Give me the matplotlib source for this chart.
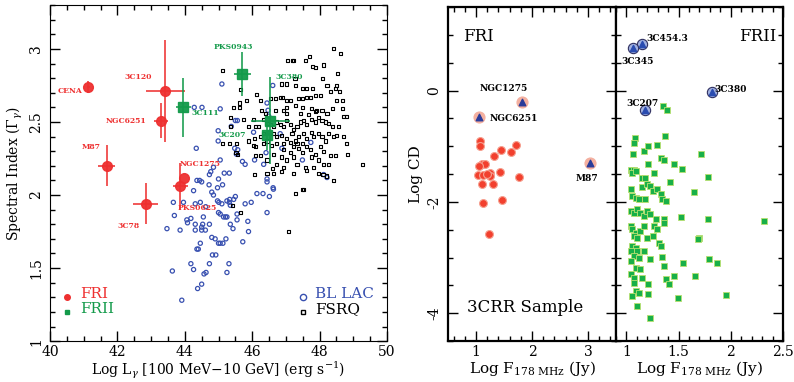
import numpy as np
import matplotlib
matplotlib.use("Agg")
import matplotlib.pyplot as plt
from matplotlib.ticker import MultipleLocator, FuncFormatter

plt.rcParams['font.family'] = ['DejaVu Serif']
plt.rcParams['mathtext.fontset'] = 'dejavuserif'

# ---- Left panel: gamma-ray luminosity vs spectral index
bll_L = [44.28, 44.51, 45.05, 45.10, 44.99, 44.99, 44.34, 45.50, 45.56, 45.38,
         45.48, 45.57, 45.53, 45.71, 45.79, 46.04, 46.07, 46.34, 46.41, 46.44,
         46.47, 46.49, 46.61, 46.53, 46.44, 46.44, 46.63, 46.51, 46.44, 46.14,
         46.32, 45.97, 45.79, 45.87, 45.89, 45.72, 45.50, 45.33, 45.32, 45.55,
         45.55, 45.35, 45.43, 45.21, 45.17, 45.32, 45.05, 44.73, 44.77, 44.85,
         45.00, 45.12, 44.97, 44.72, 44.85, 44.80, 44.50, 44.36, 44.44, 44.26,
         43.66, 43.96, 44.31, 44.46, 44.62, 44.97, 45.01, 45.10, 45.25, 45.35,
         45.05, 45.15, 45.25, 45.45, 43.69, 44.08, 44.06, 44.18, 44.31, 44.55,
         44.53, 44.61, 44.50, 44.73, 45.00, 43.47, 43.86, 44.31, 44.50, 44.80,
         44.90, 45.00, 45.05, 45.13, 45.22, 44.46, 44.36, 44.40, 44.82, 44.92,
         44.73, 44.18, 44.26, 44.57, 44.63, 45.31, 45.25, 43.63, 44.50, 44.38,
         43.91, 47.74, 47.49, 48.12, 48.22, 46.83, 46.88, 46.62]
bll_G = [2.60, 2.60, 2.59, 2.76, 2.44, 2.37, 2.32, 2.51, 2.51, 2.47,
         2.32, 2.31, 2.28, 2.23, 2.21, 2.43, 2.24, 2.21, 2.29, 2.63,
         2.58, 2.54, 2.75, 2.43, 2.11, 2.09, 2.04, 1.99, 1.88, 2.01,
         2.01, 1.95, 1.94, 1.82, 1.75, 1.68, 1.99, 1.97, 1.95, 1.87,
         1.83, 1.80, 1.77, 1.85, 2.15, 2.15, 2.24, 2.14, 2.16, 2.19,
         2.11, 2.07, 2.05, 2.07, 2.00, 2.02, 2.09, 2.10, 2.10, 2.03,
         1.95, 1.95, 1.94, 1.95, 1.92, 1.96, 1.95, 1.94, 1.96, 1.93,
         1.87, 1.85, 1.85, 1.97, 1.86, 1.81, 1.83, 1.84, 1.80, 1.85,
         1.80, 1.76, 1.78, 1.80, 1.88, 1.77, 1.76, 1.76, 1.76, 1.71,
         1.70, 1.67, 1.67, 1.67, 1.70, 1.67, 1.63, 1.63, 1.59, 1.59,
         1.53, 1.53, 1.49, 1.46, 1.47, 1.53, 1.47, 1.48, 1.39, 1.36,
         1.28, 2.36, 2.24, 2.14, 2.12, 2.42, 2.32, 2.05]

fsrq_L = [48.41, 48.61, 47.70, 47.05, 47.20, 47.23, 47.57, 47.78, 47.89, 48.11,
          45.13, 48.53, 48.09, 47.27, 46.86, 47.03, 47.28, 47.50, 47.60, 47.78,
          48.22, 48.50, 48.47, 45.64, 45.84, 46.14, 46.24, 46.55, 46.68, 46.83,
          46.91, 47.01, 47.13, 47.38, 47.48, 47.62, 47.72, 47.87, 48.02, 48.32,
          48.59, 48.68, 48.51, 45.62, 45.62, 45.45, 45.35, 48.37, 48.67, 48.71,
          48.81, 48.07, 48.22, 47.77, 47.87, 47.28, 47.48, 46.93, 47.03, 46.68,
          46.27, 46.04, 45.74, 45.89, 46.09, 46.19, 45.35, 45.13, 45.33, 45.54,
          45.52, 45.57, 46.09, 46.34, 46.09, 45.89, 46.07, 46.24, 46.34, 46.44,
          46.58, 46.73, 46.63, 46.88, 46.93, 47.13, 47.23, 47.38, 47.48, 47.60,
          47.72, 47.87, 48.02, 48.12, 48.32, 48.47, 48.84, 49.26, 48.12, 48.27,
          48.10, 48.20, 48.42, 47.57, 47.60, 47.23, 46.88, 46.93, 46.61, 46.63,
          46.06, 46.44, 47.48, 47.53, 47.28, 45.64, 47.08, 45.41,
          46.34, 46.44, 46.53, 46.63, 46.73, 46.83, 46.93, 47.03, 47.13, 47.23,
          47.33, 47.43, 47.52, 47.62, 47.77, 47.87, 47.97, 48.07, 48.17, 48.27,
          48.37, 46.63, 46.73, 46.88, 47.03, 47.18, 47.28, 47.38, 47.52, 47.62,
          47.77, 47.82, 47.97, 48.07, 48.17, 48.27, 48.42, 46.93, 47.13, 47.33,
          47.48, 47.77, 47.97, 47.03, 47.23, 46.73, 46.44, 46.24, 46.04, 47.33,
          47.82, 47.97, 48.51, 48.81, 48.56, 48.71, 46.39, 47.03, 47.43, 47.67,
          47.92]
fsrq_G = [3.00, 2.97, 2.95, 2.92, 2.92, 2.92, 2.92, 2.88, 2.87, 2.89,
          2.85, 2.83, 2.80, 2.80, 2.76, 2.76, 2.75, 2.73, 2.73, 2.73,
          2.75, 2.75, 2.73, 2.72, 2.65, 2.69, 2.65, 2.66, 2.66, 2.67,
          2.67, 2.65, 2.65, 2.66, 2.66, 2.67, 2.67, 2.68, 2.68, 2.71,
          2.71, 2.65, 2.65, 2.63, 2.60, 2.60, 2.53, 2.59, 2.59, 2.54,
          2.54, 2.58, 2.56, 2.59, 2.57, 2.61, 2.60, 2.58, 2.60, 2.58,
          2.58, 2.52, 2.52, 2.47, 2.47, 2.47, 2.47, 2.35, 2.35, 2.35,
          2.29, 2.28, 2.33, 2.35, 2.27, 2.37, 2.39, 2.40, 2.42, 2.37,
          2.34, 2.35, 2.28, 2.26, 2.31, 2.29, 2.33, 2.32, 2.35, 2.33,
          2.31, 2.28, 2.33, 2.30, 2.27, 2.27, 2.28, 2.21, 2.21, 2.21,
          2.14, 2.13, 2.10, 2.19, 2.17, 2.15, 2.16, 2.19, 2.18, 2.15,
          2.14, 2.15, 2.04, 2.04, 2.01, 1.88, 1.75, 1.93,
          2.52, 2.49, 2.48, 2.47, 2.50, 2.48, 2.47, 2.51, 2.48, 2.45,
          2.47, 2.50, 2.51, 2.48, 2.52, 2.50, 2.53, 2.51, 2.50, 2.49,
          2.47, 2.42, 2.40, 2.41, 2.39, 2.42, 2.37, 2.40, 2.42, 2.39,
          2.43, 2.40, 2.42, 2.40, 2.37, 2.42, 2.40, 2.35, 2.36, 2.35,
          2.29, 2.26, 2.24, 2.24, 2.26, 2.21, 2.24, 2.27, 2.34, 2.21,
          2.19, 2.15, 2.41, 2.35, 2.47, 2.40, 2.56, 2.56, 2.56, 2.55,
          2.58]

fri_names = ["CENA", "3C120", "NGC6251", "M87", "NGC1275", "PKS0625", "3C78"]
fri_L = [41.14, 43.42, 43.30, 41.68, 43.99, 43.86, 42.84]
fri_G = [2.74, 2.71, 2.51, 2.20, 2.12, 2.06, 1.94]
fri_xerr = [0.05, 0.58, 0.21, 0.25, 0.0, 0.22, 0.37]
fri_yerr = [0.04, 0.35, 0.12, 0.14, 0.0, 0.16, 0.14]
fri_lab_L = [40.59, 42.62, 42.26, 41.21, 44.46, 44.36, 42.33]
fri_lab_G = [2.71, 2.81, 2.51, 2.33, 2.21, 1.91, 1.79]

frii_names = ["PKS0943", "3C111", "3C380", "3C207"]
frii_L = [45.71, 43.95, 46.53, 46.44]
frii_G = [2.83, 2.60, 2.51, 2.41]
frii_xerr = [0.25, 0.22, 0.58, 0.15]
frii_yerr = [0.15, 0.20, 0.30, 0.10]
frii_lab_L = [45.45, 44.62, 47.11, 45.42]
frii_lab_G = [3.01, 2.56, 2.81, 2.41]

# ---- Right panels: core dominance vs 178 MHz flux (3CRR)
cd_fri_F = [1.07, 1.07, 1.10, 1.16, 1.04, 1.13, 1.25, 1.25, 1.10, 1.31,
            1.43, 1.33, 1.44, 1.62, 1.71, 1.77, 1.12, 1.46, 1.24, 1.20, 1.06]
cd_fri_CD = [-0.91, -1.00, -1.31, -1.31, -1.51, -1.51, -1.48, -1.54, -1.68, -1.68,
             -1.46, -1.18, -1.06, -1.11, -0.97, -1.56, -2.01, -1.97, -2.57, -1.50, -1.35]
fri_tri_names = ["NGC1275", "NGC6251", "M87"]
fri_tri_F = [1.83, 1.06, 3.04]
fri_tri_CD = [-0.20, -0.48, -1.30]
fri_tri_lab_F = [1.49, 1.67, 2.98]
fri_tri_lab_CD = [0.04, -0.50, -1.57]

cd_frii_F = [1.08, 1.07, 1.06, 1.17, 1.21, 1.29, 1.37, 1.33, 1.36, 1.21,
             1.46, 1.53, 1.71, 1.04, 1.07, 1.05, 1.09, 1.26, 1.15, 1.18,
             1.78, 1.42, 1.04, 1.15, 1.20, 1.23, 1.25, 1.29, 1.18, 1.05,
             1.09, 1.12, 1.33, 1.34, 1.38, 1.65, 1.04, 1.07, 1.10, 1.13,
             1.17, 1.20, 1.23, 1.28, 1.36, 1.36, 1.52, 1.78, 2.32, 1.04,
             1.05, 1.09, 1.13, 1.17, 1.26, 1.29, 1.07, 1.10, 1.20, 1.25,
             1.31, 1.33, 1.70, 1.69, 1.05, 1.09, 1.04, 1.10, 1.17, 1.07,
             1.04, 1.12, 1.23, 1.34, 1.54, 1.79, 1.87, 1.36, 1.09, 1.13,
             1.04, 1.07, 1.15, 1.46, 1.66, 1.38, 1.41, 1.07, 1.09, 1.05,
             1.12, 1.21, 1.21, 1.49, 1.95, 1.10, 1.23, 1.35, 1.39]
cd_frii_CD = [-0.85, -0.94, -1.14, -1.09, -1.00, -0.97, -0.81, -1.21, -1.24, -1.31,
              -1.31, -1.40, -1.13, -1.42, -1.42, -1.48, -1.45, -1.48, -1.57, -1.57,
              -1.55, -1.64, -1.76, -1.74, -1.68, -1.71, -1.80, -1.77, -1.95, -1.89,
              -1.92, -1.95, -1.86, -1.95, -1.98, -1.82, -2.16, -2.19, -2.13, -2.19,
              -2.25, -2.16, -2.22, -2.31, -2.31, -2.37, -2.27, -2.30, -2.35, -2.43,
              -2.49, -2.55, -2.52, -2.43, -2.43, -2.49, -2.61, -2.64, -2.64, -2.61,
              -2.73, -2.79, -2.64, -2.66, -2.79, -2.82, -2.88, -2.88, -2.88, -2.97,
              -3.06, -3.00, -3.02, -2.98, -3.09, -3.03, -3.09, -3.15, -3.18, -3.21,
              -3.30, -3.36, -3.36, -3.33, -3.33, -3.38, -3.48, -3.45, -3.60, -3.69,
              -3.63, -3.48, -3.66, -3.72, -3.67, -3.87, -4.09, -0.27, -0.34]
frii_tri_names = ["3C454.3", "3C345", "3C380", "3C207"]
frii_tri_F = [1.15, 1.06, 1.82, 1.18]
frii_tri_CD = [0.83, 0.76, -0.02, -0.35]
frii_tri_lab_F = [1.39, 1.11, 2.00, 1.15]
frii_tri_lab_CD = [0.94, 0.53, 0.02, -0.24]

RED = "#ee3030"
GREEN = "#139a4a"
BLUE = "#3850b0"


def sm_ticks(ax, xmaj, xmin, ymaj, ymin):
    ax.xaxis.set_major_locator(MultipleLocator(xmaj))
    ax.xaxis.set_minor_locator(MultipleLocator(xmin))
    ax.yaxis.set_major_locator(MultipleLocator(ymaj))
    ax.yaxis.set_minor_locator(MultipleLocator(ymin))
    ax.yaxis.set_major_formatter(FuncFormatter(lambda v, p: "%g" % round(v, 2)))
    ax.tick_params(which="both", direction="in", top=True, right=True, width=1.0)
    ax.tick_params(which="major", length=7, labelsize=10)
    ax.tick_params(which="minor", length=3.5)
    ax.tick_params(axis="x", pad=3)
    ax.tick_params(axis="y", pad=5)
    for lab in ax.get_yticklabels():
        lab.set_rotation(90)
        lab.set_va("center")


fig = plt.figure(figsize=(7.94, 3.82), dpi=100)

# ---- Left
ax = fig.add_axes([0.063, 0.107, 0.4244, 0.8796])
ax.scatter(bll_L, bll_G, s=9, facecolors="none", edgecolors=BLUE, linewidths=0.9, zorder=2)
ax.scatter(fsrq_L, fsrq_G, s=5, marker="s", facecolors="none", edgecolors="black", linewidths=0.8, zorder=2)
ax.errorbar(fri_L, fri_G, xerr=fri_xerr, yerr=fri_yerr, fmt="o", color=RED, ms=7,
            elinewidth=1.2, capsize=0, alpha=0.95, zorder=3)
ax.errorbar(frii_L, frii_G, xerr=frii_xerr, yerr=frii_yerr, fmt="s", color=GREEN, ms=7,
            elinewidth=1.2, capsize=0, alpha=0.95, zorder=3)
for name, x, y in zip(fri_names, fri_lab_L, fri_lab_G):
    ax.text(x, y, name, color=RED, fontsize=5.5, fontweight="bold", ha="center", va="center")
for name, x, y in zip(frii_names, frii_lab_L, frii_lab_G):
    ax.text(x, y, name, color=GREEN, fontsize=5.5, fontweight="bold", ha="center", va="center")

# legend drawn by hand, as in the original
ax.plot([40.5], [1.30], "o", color=RED, ms=4)
ax.plot([40.5], [1.20], "s", color=GREEN, ms=3.5)
ax.text(40.9, 1.32, "FRI", color=RED, fontsize=11, va="center")
ax.text(40.9, 1.22, "FRII", color=GREEN, fontsize=11, va="center")
ax.plot([47.5], [1.30], "o", mfc="none", mec=BLUE, ms=4.5)
ax.plot([47.5], [1.20], "s", mfc="none", mec="black", ms=3.5)
ax.text(47.87, 1.32, "BL LAC", color=BLUE, fontsize=11, va="center")
ax.text(47.87, 1.22, "FSRQ", color="black", fontsize=11, va="center")

ax.set_xlim(40, 50)
ax.set_ylim(1, 3.3)
sm_ticks(ax, 2, 0.5, 0.5, 0.1)
ax.set_xlabel(r"Log L$_\gamma$ [100 MeV$-$10 GeV] (erg s$^{-1}$)", fontsize=10, labelpad=0)
ax.set_ylabel(r"Spectral Index ($\Gamma_\gamma$)", fontsize=10, labelpad=3)

# ---- Right: FRI
ax1 = fig.add_axes([0.5642, 0.107, 0.2116, 0.8743])
ax1.scatter(cd_fri_F, cd_fri_CD, s=32, color="#f2402e", edgecolors="#f6a090", linewidths=0.8, zorder=2)
ax1.scatter(fri_tri_F, fri_tri_CD, s=60, color="#f4b0a0", zorder=2)
ax1.scatter(fri_tri_F, fri_tri_CD, s=22, marker="^", color="#2a3c9a", zorder=3)
for name, x, y in zip(fri_tri_names, fri_tri_lab_F, fri_tri_lab_CD):
    ax1.text(x, y, name, fontsize=6.5, fontweight="bold", ha="center", va="center")
ax1.text(1.04, 0.97, "FRI", fontsize=12, ha="center", va="center")
ax1.text(1.87, -3.90, "3CRR Sample", fontsize=12, ha="center", va="center")
ax1.set_xlim(0.5, 3.5)
ax1.set_ylim(-4.5, 1.5)
sm_ticks(ax1, 1, 0.2, 2, 0.5)
ax1.set_xlabel(r"Log F$_{178\ \mathrm{MHz}}$ (Jy)", fontsize=11, labelpad=0)
ax1.set_ylabel("Log CD", fontsize=11, labelpad=3)

# ---- Right: FRII
ax2 = fig.add_axes([0.7758, 0.107, 0.2103, 0.8743], sharey=ax1)
ax2.scatter(cd_frii_F, cd_frii_CD, s=20, marker="s", color="#18b048", edgecolors="#b8e070",
            linewidths=0.6, zorder=2)
ax2.scatter(frii_tri_F, frii_tri_CD, s=55, color="#a0b0e0", edgecolors="#303060",
            linewidths=0.8, zorder=2)
ax2.scatter(frii_tri_F, frii_tri_CD, s=20, marker="^", color="#2a4cb0", zorder=3)
for name, x, y in zip(frii_tri_names, frii_tri_lab_F, frii_tri_lab_CD):
    ax2.text(x, y, name, fontsize=6.5, fontweight="bold", ha="center", va="center")
ax2.text(2.26, 0.97, "FRII", fontsize=12, ha="center", va="center")
ax2.set_xlim(0.9, 2.5)
sm_ticks(ax2, 0.5, 0.1, 2, 0.5)
ax2.tick_params(labelleft=False)
ax2.xaxis.set_major_formatter(FuncFormatter(lambda v, p: "%g" % v if v > 0.95 else ""))
ax2.set_xlabel(r"Log F$_{178\ \mathrm{MHz}}$ (Jy)", fontsize=11, labelpad=0)

for a in (ax1, ax2):
    for sp in a.spines.values():
        sp.set_linewidth(1.6)

fig.savefig("out.png", dpi=100)
